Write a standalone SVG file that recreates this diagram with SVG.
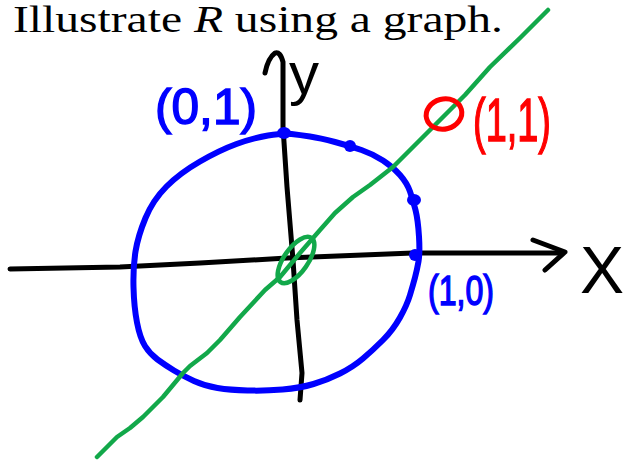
<svg xmlns="http://www.w3.org/2000/svg" width="630" height="462" viewBox="0 0 630 462">
<style>
.ink{fill:none;stroke-linecap:round;stroke-linejoin:round}
.k{stroke:#000;stroke-width:5}
.b{stroke:#0000ff;stroke-width:6}
.g{stroke:#12a84a;stroke-width:4.5}
.r{stroke:#ff0000;stroke-width:5}
.title{font-family:"Liberation Serif","Times New Roman",Times,serif;font-size:37px;fill:#000}
.hand{font-family:"Liberation Sans",Arial,Helvetica,sans-serif}
</style>
<rect width="630" height="462" fill="#fff"/>
<text class="title" x="13" y="32" textLength="490" lengthAdjust="spacingAndGlyphs">Illustrate <tspan font-style="italic">R</tspan> using a graph.</text>
<g id="axes">
<path class="ink k" d="M10,269 L120,267 L200,263 L287,258 L413,253 L562,253"/>
<path class="ink k" d="M533,240 L565,252 L545,270"/>
<path class="ink k" d="M300,400 L302,373 L297,320 L293,260 L287,187 L283,127 L283,62 Q280,51 275,53 Q268,58 265,73"/>
</g>
<g id="circle">
<path class="ink b" d="M291.5,134 Q300,135 310,136.5 Q320,138 335,142 Q350,146 361.5,150 Q373,154 383,160.5 Q393,167 400,175 Q407,183 410,191.5 Q413,200 415.5,210 Q418,220 419,236.5 Q420,253 418.5,261.5 Q417,270 415,277.5 Q413,285 410,295 Q407,305 400,317.5 Q393,330 383,340 Q373,350 363,358.5 Q353,367 340,373.5 Q327,380 313.5,384 Q300,388 282.5,389.5 Q265,391 247.5,390.5 Q230,390 217.5,388 Q205,386 194,381 Q183,376 174,370.5 Q165,365 157.5,359.5 Q150,354 145,346 Q140,338 137,322.5 Q134,307 133.5,287 Q133,267 135.5,251.5 Q138,236 145.5,218 Q153,200 166.5,186.5 Q180,173 200,161.5 Q220,150 236.5,144 Q253,138 268,135.5 Q283,133 291.5,134 Z"/>
<g fill="#0000ff">
<ellipse cx="284" cy="133" rx="7" ry="6"/>
<ellipse cx="350" cy="146" rx="6" ry="6"/>
<ellipse cx="414" cy="200" rx="7" ry="6"/>
<ellipse cx="415" cy="255" rx="6" ry="6"/>
</g>
</g>
<g id="line">
<path class="ink g" d="M548,10 L520,38 L490,67 L465,95 L440,120 L415,145 L393,167 L370,185 L353,197 L335,213 L320,230 L300,253 L280,277 L265,290 L253,303 L240,317 L220,340 L207,353 L190,366 L183,373 L163,397 L143,417 L130,428 L117,437 L97,457"/>
<ellipse class="ink g" cx="296" cy="260" rx="27" ry="12" transform="rotate(-55 296 260)"/>
</g>
<g id="point11">
<ellipse class="ink r" cx="444" cy="114" rx="18" ry="15" transform="rotate(-15 444 114)"/>
</g>
<g id="labels" class="hand">
<text x="155" y="124" font-size="50" textLength="102" lengthAdjust="spacingAndGlyphs" fill="#0000ff" stroke="#0000ff" stroke-width="1.5">(0,1)</text>
<text x="473" y="141" font-size="62" textLength="78" lengthAdjust="spacingAndGlyphs" fill="#ff0000" stroke="#ff0000" stroke-width="1.5">(1,1)</text>
<text x="428" y="305" font-size="42" textLength="66" lengthAdjust="spacingAndGlyphs" fill="#0000ff" stroke="#0000ff" stroke-width="1.5">(1,0)</text>
<text x="289" y="94" font-size="60" fill="#000">y</text>
<text x="580" y="293" font-size="66" fill="#000">X</text>
</g>
</svg>
